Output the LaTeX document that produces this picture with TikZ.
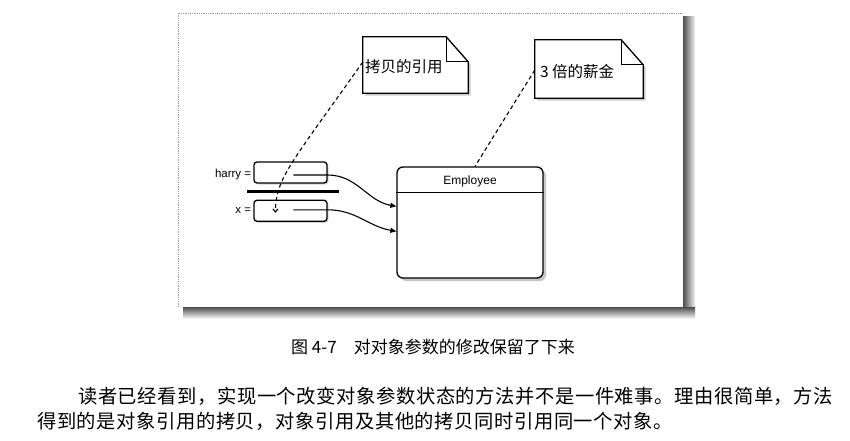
\documentclass[tikz,border=0pt]{standalone}
\usepackage{fontspec}
\setsansfont{Liberation Sans}
\newfontfamily\cjk{Noto Sans CJK SC}
\newfontfamily\cjkwide[LetterSpace=3]{Noto Sans CJK SC}
\usepackage{xcolor}
\usepackage{tikz}
\usetikzlibrary{arrows.meta,positioning,calc,shadows}

\tikzset{
  cell/.style={draw,line width=1.3pt,rounded corners=3pt,fill=white,
    minimum width=73pt,minimum height=21pt,inner sep=0pt,
    drop shadow={shadow xshift=1.5pt,shadow yshift=-1.5pt,opacity=.35}},
  varlabel/.style={font=\sffamily\fontsize{11.5}{13}\selectfont,inner sep=1pt,anchor=east},
  classbox/.style={draw,line width=1.3pt,rounded corners=6pt,fill=white,
    minimum width=146pt,minimum height=111pt,
    drop shadow={shadow xshift=3pt,shadow yshift=-3pt,opacity=.45}},
  note/.style={minimum width=105pt,minimum height=56pt,inner sep=0pt},
  notepaper/.style={draw,line width=1.3pt,fill=white,
    drop shadow={shadow xshift=2.5pt,shadow yshift=-2.5pt,opacity=.4}},
  notetext/.style={font=\cjk\fontsize{15.5}{18}\selectfont,inner sep=0pt,anchor=west},
  noteline/.style={dashed,dash pattern=on 4pt off 3pt,line width=1.1pt},
  ref/.style={line width=1.1pt,-{Triangle[length=6pt,width=5pt]}},
}

\newcommand{\dogear}[1]{%
  \draw[notepaper] (#1.south west) -- (#1.north west) -- ([xshift=-22pt]#1.north east)
    -- ([yshift=-25pt]#1.north east) -- (#1.south east) -- cycle;
  \draw[line width=1.1pt] ([xshift=-22pt]#1.north east) |- ([yshift=-25pt]#1.north east);
}

\begin{document}
\begin{tikzpicture}[x=1pt,y=1pt,font=\sffamily]
\useasboundingbox (0,0) rectangle (850,440);

% frame of the figure
\shade[left color=black!70,right color=black!5] (683,122) rectangle (695,423);
\shade[top color=black!70,bottom color=black!5] (183,122) rectangle (695,133);
\draw[black!40,densely dotted,line width=0.8pt] (178,133) -- (178,427) -- (683,427);

% the two references
\node[cell] (harry) at (290.5,267.5) {};
\node[cell,below=16pt of harry] (xcell) {};
\node[varlabel] (harrylbl) at ([xshift=-1pt,yshift=-2pt]harry.west) {harry =};
\node[varlabel] (xlbl) at ([xshift=-1pt]xcell.west) {x =};
\draw[line width=3pt] ($(harry.south west)+(-6,-8)$) -- ($(harry.south east)+(11,-8)$);

% the object
\node[classbox] (emp) at (470,217.5) {};
\draw[line width=1.1pt] ([yshift=-26pt]emp.north west) -- ([yshift=-26pt]emp.north east);
\node[font=\sffamily\fontsize{12}{14}\selectfont] (emptitle) at ([yshift=-15pt]emp.north) {Employee};

\coordinate (hp) at ($(harry.west)+(40,-2.5)$);
\coordinate (xp) at ($(xcell.west)+(40,1)$);
\coordinate (xdot) at ($(xcell.west)+(22,-2)$);
\draw[ref] (hp) -- (harry.east |- hp) to[out=0,in=170] ($(emp.north west)+(0,-40)$);
\draw[ref] (xp) -- (xcell.east |- xp) to[out=0,in=170] ($(emp.north west)+(0,-65)$);

% notes
\node[note] (copynote) at (415.5,375) {};
\dogear{copynote}
\node[notetext] (copytext) at ([xshift=2pt,yshift=-2pt]copynote.west) {拷贝的引用};
\node[note,minimum width=108pt,minimum height=58pt] (salarynote) at (589,371) {};
\dogear{salarynote}
\node[notetext] (salarytext) at ([xshift=5pt,yshift=-3pt]salarynote.west) {3 倍的薪金};

\draw[noteline,-{Straight Barb[length=3pt,width=5pt]}] ([yshift=3pt]copynote.west)
  .. controls (290,275) and (276,262) .. (xdot);
\draw[noteline] ([yshift=-1pt]salarynote.west) -- ([xshift=5pt]emp.north);

% caption and text
\node[font=\cjk\fontsize{17}{20}\selectfont,anchor=west,inner sep=0pt] (caption) at (291,93)
  {图 4-7\quad 对对象参数的修改保留了下来};
\node[font=\cjkwide\fontsize{19.3}{22}\selectfont,anchor=west,inner sep=0pt] (para1) at (78,44)
  {读者已经看到，实现一个改变对象参数状态的方法并不是一件难事。理由很简单，方法};
\node[font=\cjkwide\fontsize{19.3}{22}\selectfont,anchor=west,inner sep=0pt] (para2) at (37,19)
  {得到的是对象引用的拷贝，对象引用及其他的拷贝同时引用同一个对象。};
\end{tikzpicture}
\end{document}
